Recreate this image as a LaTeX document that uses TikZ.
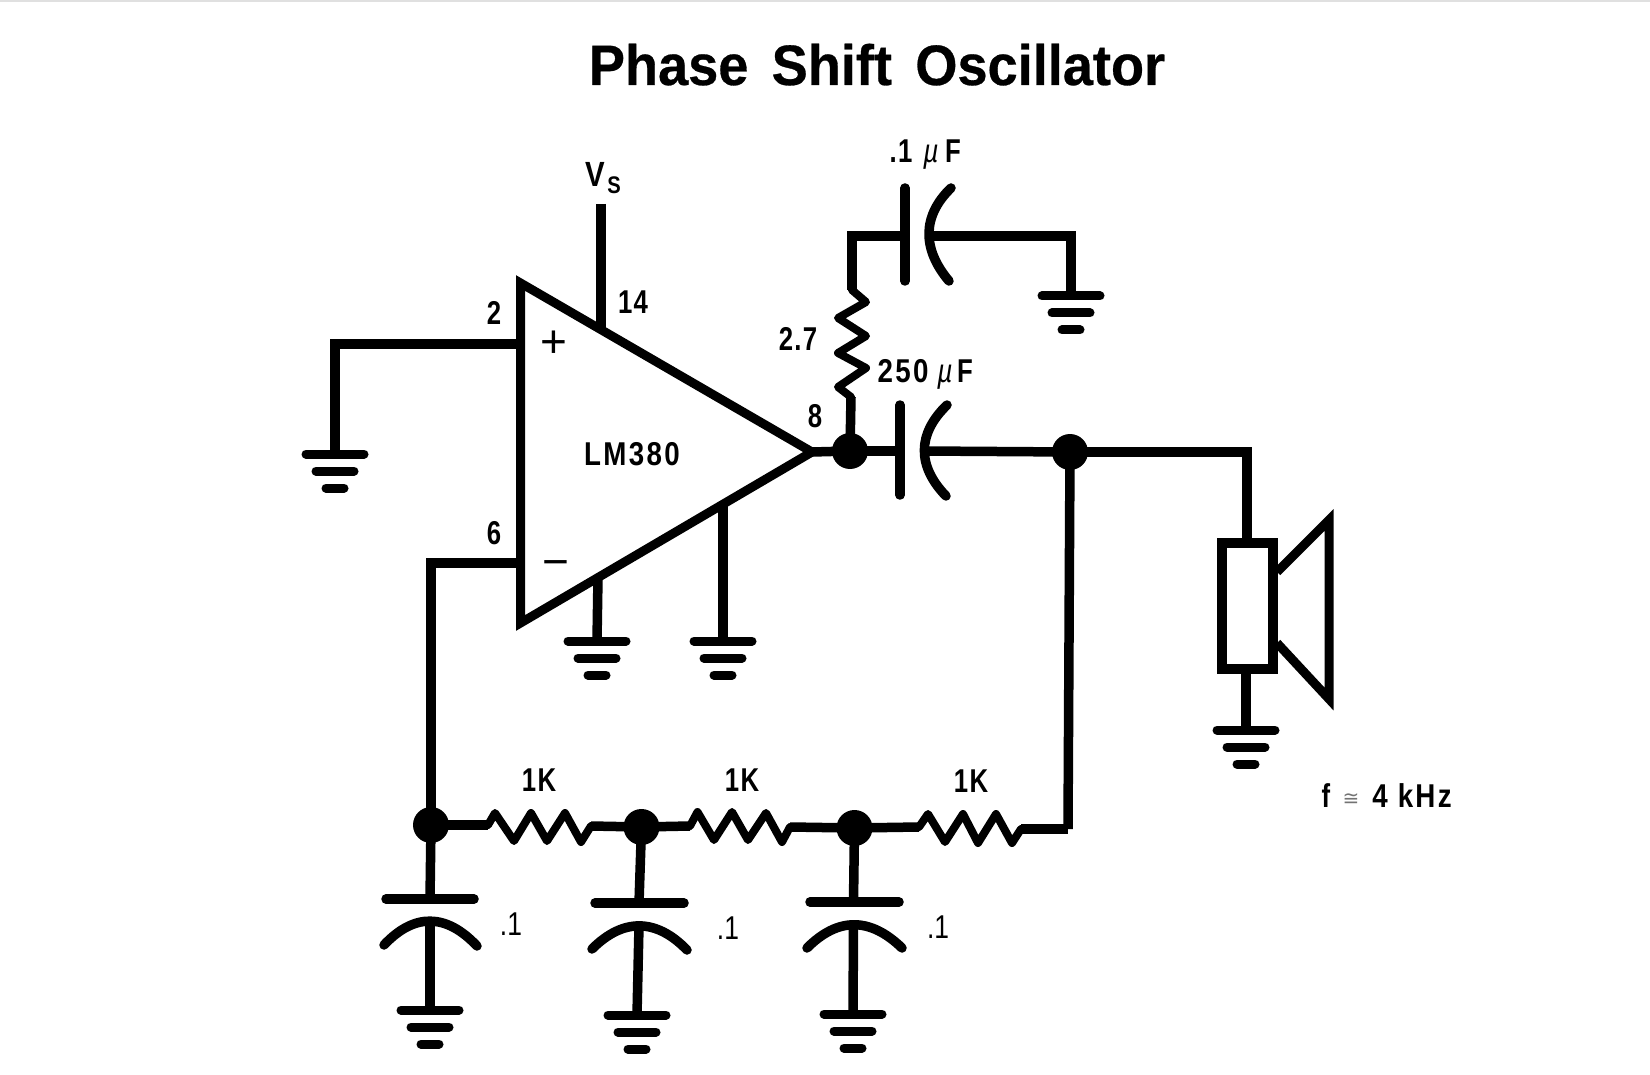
\documentclass[tikz,border=0pt]{standalone}
\usepackage{fontspec}
\setmainfont{Liberation Sans}
\newfontfamily\labb[FakeStretch=0.78,LetterSpace=4]{Liberation Sans Bold}
\newfontfamily\labw[FakeStretch=0.84,LetterSpace=7]{Liberation Sans Bold}
\newfontfamily\labi[FakeStretch=0.8]{Liberation Sans Italic}
\newfontfamily\labr[FakeStretch=0.8]{Liberation Sans}
\newfontfamily\symf{DejaVu Sans}
\newfontfamily\titlef[FakeStretch=0.95,WordSpace=1.55,FakeBold=0.5]{Liberation Sans Bold}
\definecolor{ink}{RGB}{0,0,0}
\tikzset{
  wire/.style={line width=9.5pt,draw=ink,line cap=butt,line join=miter},
  zig/.style={line width=8pt,draw=ink,line join=round,line cap=round},
  plate/.style={line width=9.5pt,draw=ink,line cap=round},
  bar/.style={line width=9pt,draw=ink,line cap=round},
  dotj/.style={circle,fill=ink,inner sep=0pt,minimum size=36pt},
  lab/.style={inner sep=0pt,anchor=base,text=ink,font=\fontsize{33}{33}\selectfont\labb},
  labwide/.style={inner sep=0pt,anchor=base,text=ink,font=\fontsize{33}{33}\selectfont\labw},
  labital/.style={inner sep=0pt,anchor=base,text=ink,font=\fontsize{33}{33}\selectfont\labi},
  thinlab/.style={inner sep=0pt,anchor=base,text=ink,font=\fontsize{33}{33}\selectfont\labr},
  signlab/.style={inner sep=0pt,anchor=base,text=ink,font=\fontsize{46}{46}\selectfont},
}
% ground symbol hanging from a named coordinate
\newcommand{\gndsym}[1]{%
  \draw[bar] ([xshift=-29pt]#1) -- ([xshift=29pt]#1);
  \draw[bar] ([xshift=-19pt,yshift=-17pt]#1) -- ([xshift=19pt,yshift=-17pt]#1);
  \draw[bar] ([xshift=-9pt,yshift=-34pt]#1) -- ([xshift=9pt,yshift=-34pt]#1);
}
\begin{document}
\begin{tikzpicture}[x=1pt,y=-1pt]
\useasboundingbox (0,0) rectangle (1650,1075);
\fill[white] (0,0) rectangle (1650,1075);
\fill[black!12] (0,0) rectangle (1650,2);

\node[inner sep=0pt,anchor=base,text=ink,font=\fontsize{57}{57}\selectfont\titlef] (title) at (877,85) {Phase Shift Oscillator};

% amplifier
\coordinate (tA) at (520.5,283);
\coordinate (tB) at (520.5,623);
\coordinate (tC) at (812,452);
\draw[line width=9pt,draw=ink,line join=miter] (tA) -- (tC) -- (tB) -- cycle;
\node[signlab] (plus) at (554,358) {+};
\node[signlab] (minus) at (556,577) {\symbol{"2212}};
\node[labwide] (lm) at (632,465) {LM380};
\node[lab] (p2) at (494,325) {2};
\node[lab] (p14) at (633,314) {14};
\node[lab] (p6) at (494,544) {6};
\node[lab] (p8) at (815,428) {8};

% supply
\coordinate (vtop) at (601,204);
\coordinate (vpin) at (601,331);
\draw[wire] (vtop) -- (vpin);
\node[labwide,font=\fontsize{35}{35}\selectfont\labw] (vsV) at (595,187) {V};
\node[lab,font=\fontsize{24}{24}\selectfont\labw] (vsS) at (614,194) {S};

% pin 2 to ground
\coordinate (pin2) at (520.5,344);
\coordinate (g1) at (335,454);
\draw[wire] (pin2) -| (g1);
\gndsym{g1}

% lower pins to ground
\coordinate (pinA) at (598,577);
\coordinate (g2) at (597,641);
\draw[wire] (pinA) -- (g2);
\gndsym{g2}
\coordinate (pinB) at (723,505);
\coordinate (g3) at (723,641);
\draw[wire] (pinB) -- (g3);
\gndsym{g3}

% output
\node[dotj] (dA) at (850,451) {};
\node[dotj] (dB) at (1070,452) {};
\draw[wire] (tC) -- (dA.center);

% Zobel network
\coordinate (zc) at (852,236);
\coordinate (rz0) at (852,290);
\coordinate (rz1) at (851,397);
\coordinate (cpa) at (905,236);
\coordinate (cpb) at (929,236);
\coordinate (g4) at (1071,296);
\draw[wire] (dA.center) -- (rz1);
\draw[zig] (rz1) -- (838,387) -- (866,368) -- (838,353) -- (866,336) -- (838,318) -- (866,302) -- (rz0);
\draw[wire] (rz0) -- (zc) -- (cpa);
\draw[plate] (905,188) -- (905,281);
\draw[plate] (951,188) .. controls (922,216) and (922,249) .. (949,281);
\draw[wire] (cpb) -| (g4);
\gndsym{g4}
\node[lab] (lc1a) at (901,163) {.1};
\node[labital] (lc1b) at (931,163) {µ};
\node[lab] (lc1c) at (953,163) {F};
\node[lab] (lr27) at (798,351) {2.7};
\node[labwide] (lc2a) at (903,382) {250};
\node[labital] (lc2b) at (945,382) {µ};
\node[lab] (lc2c) at (965,382) {F};

% coupling capacitor
\coordinate (ccpa) at (900,451);
\coordinate (ccpb) at (924,451);
\draw[wire] (dA.center) -- (ccpa);
\draw[plate] (900,405) -- (900,495);
\draw[plate] (947,405) .. controls (917,434) and (917,466) .. (946,496);
\draw[wire] (ccpb) -- (dB.center);

% speaker
\coordinate (spk) at (1247,543);
\coordinate (spkb) at (1246,669);
\coordinate (g5) at (1246,730);
\draw[wire] (dB.center) -- (1247,452) -- (spk);
\draw[line width=10pt,draw=ink] (1222,543) rectangle (1273,669);
\draw[line width=9pt,draw=ink,line join=miter] (1277,572) -- (1329,520) -- (1329,699) -- (1277,643);
\draw[wire] (spkb) -- (g5);
\gndsym{g5}
\node[lab] (lfa) at (1326,807) {f};
\node[inner sep=0pt,anchor=base,text=black!55,font=\fontsize{20}{20}\selectfont\symf] (lfb) at (1351,805) {≅};
\node[labwide] (lfc) at (1412,807) {4 kHz};

% feedback
\coordinate (fb) at (1068,829);
\draw[wire] (dB.center) -- (fb);
\node[dotj] (d1) at (431,825) {};
\node[dotj] (d2) at (641.5,827) {};
\node[dotj] (d3) at (854.5,828) {};
\coordinate (pin6) at (520.5,563);
\draw[wire] (pin6) -| (d1.center);

% resistor ladder
\draw[wire] (d1.center) -- (488,825);
\draw[zig] (488,825) -- (495,813) -- (514,841) -- (531,813) -- (547,841) -- (565,813) -- (581,842) -- (591,826);
\draw[wire] (591,826) -- (d2.center) -- (690,826);
\draw[zig] (690,826) -- (697.5,812) -- (714,840) -- (732,812) -- (748,840) -- (766,813) -- (782,842) -- (790,827);
\draw[wire] (790,827) -- (d3.center) -- (919,827);
\draw[zig] (919,827) -- (928,814) -- (945,842) -- (963,814) -- (978,843) -- (996,814) -- (1012,843) -- (1021,829);
\draw[wire] (1021,829) -- (fb);
\node[lab] (l1k1) at (539,791) {1K};
\node[lab] (l1k2) at (742,791) {1K};
\node[lab] (l1k3) at (971,792) {1K};

% shunt capacitors
\coordinate (g6) at (430,1010);
\coordinate (g7) at (637,1015);
\coordinate (g8) at (853,1014);
\draw[wire] (d1.center) -- (430,899);
\draw[plate] (386,899) -- (474,899);
\draw[plate] (384,945) .. controls (414,913) and (446,913) .. (477,946);
\draw[wire] (430,921) -- (g6);
\gndsym{g6}
\draw[wire] (d2.center) -- (639,903);
\draw[plate] (595,903) -- (684,903);
\draw[plate] (592,949) .. controls (623,918) and (656,918) .. (687,950);
\draw[wire] (639,926) -- (637,1015);
\gndsym{g7}
\draw[wire] (d3.center) -- (853.5,902);
\draw[plate] (810,902) -- (899,902);
\draw[plate] (807,948) .. controls (838,917) and (870,917) .. (902,948);
\draw[wire] (853.5,925) -- (g8);
\gndsym{g8}
\node[thinlab] (lc3) at (511,935) {.1};
\node[thinlab] (lc4) at (728,939) {.1};
\node[thinlab] (lc5) at (938,938) {.1};
\end{tikzpicture}
\end{document}
